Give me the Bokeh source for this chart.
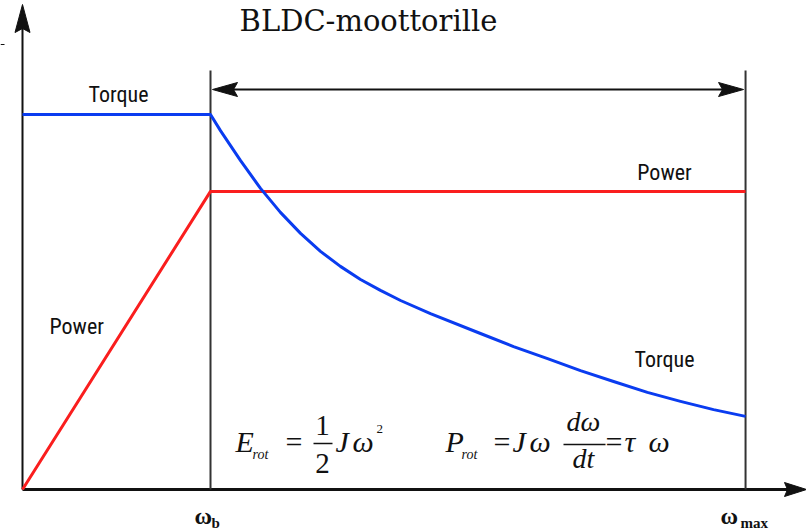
from bokeh.plotting import figure
from bokeh.models import Range1d, Label
from bokeh.embed import file_html
from bokeh.resources import INLINE

# Speeds are normalised to the base speed (omega_b = 1), torque to the rated torque.
omega_b = 1.0
omega_max = 3.846

torque_omega = [0.0, 1.0, 1.053, 1.160, 1.266, 1.372, 1.479, 1.585, 1.691, 1.798,
                1.904, 2.011, 2.170, 2.436, 2.612, 2.793, 2.968, 3.144, 3.324,
                3.500, 3.676, 3.846]
torque_vals = [1.0, 1.0, 0.957, 0.877, 0.803, 0.739, 0.683, 0.635, 0.595, 0.560,
               0.531, 0.504, 0.469, 0.416, 0.381, 0.349, 0.317, 0.288, 0.259,
               0.235, 0.213, 0.195]

power_omega = [0.0, 1.0, 3.846]
power_vals = [0.0, 0.795, 0.795]

W, H = 806, 532
PX_X = 188.0   # pixels per unit of speed
PX_Y = 375.0   # pixels per unit of torque
X0_PX, Y0_PX = 22, 489   # origin position on the canvas


def dx(px):
    return (px - X0_PX) / PX_X


def dy(py):
    return (Y0_PX - py) / PX_Y


p = figure(width=W, height=H, output_backend="svg", toolbar_location=None,
           x_range=Range1d(dx(0), dx(W)), y_range=Range1d(dy(H), dy(0)),
           x_axis_location=None, y_axis_location=None, min_border=0,
           outline_line_color=None, background_fill_color="white",
           border_fill_color="white")
p.xgrid.visible = False
p.ygrid.visible = False

BLUE = "#0a3cf0"
RED = "#fa1e1e"
INK = "#111111"

x_end = dx(W)
y_top = dy(4)
guide_top = dy(70)
span_y = dy(89)


def arrowhead(tip_x, tip_y, ux, uy, length, half, notch, color=INK):
    """Filled, slightly notched arrow head; ux/uy is the pointing direction in screen pixels (y up)."""
    px_, py_ = -uy, ux
    pts = [(0, 0),
           (-ux * length + px_ * half, -uy * length + py_ * half),
           (-ux * (length - notch), -uy * (length - notch)),
           (-ux * length - px_ * half, -uy * length - py_ * half)]
    xs = [tip_x + a / PX_X for a, b in pts]
    ys = [tip_y + b / PX_Y for a, b in pts]
    p.patch(xs, ys, fill_color=color, line_color=color, line_width=1)


# axes
p.line([0, 0], [0, y_top - 20 / PX_Y], line_color=INK, line_width=2)
arrowhead(0, y_top, 0, 1, 28, 7.5, 4)
p.line([0, x_end - 15 / PX_X], [0, 0], line_color=INK, line_width=3)
arrowhead(x_end, 0, 1, 0, 22, 7, 3)

# base speed and maximum speed guides
p.line([omega_b, omega_b], [0, guide_top], line_color="#333333", line_width=2)
p.line([omega_max, omega_max], [0, guide_top], line_color="#333333", line_width=2)

# constant-power range arrow
p.line([omega_b + 20 / PX_X, omega_max - 20 / PX_X], [span_y, span_y],
       line_color=INK, line_width=2)
arrowhead(omega_b + 2 / PX_X, span_y, -1, 0, 25, 7, 4)
arrowhead(omega_max - 2 / PX_X, span_y, 1, 0, 25, 7, 4)

# small mark at the left edge
p.line([dx(0), dx(4)], [dy(44), dy(44)], line_color=INK, line_width=1)

# characteristics
p.line(power_omega, power_vals, line_color=RED, line_width=3, line_join="round")
p.line(torque_omega, torque_vals, line_color=BLUE, line_width=3, line_join="round")

SANS = "'Liberation Sans Narrow', 'Roboto Condensed', Roboto"
SERIF = "Liberation Serif"
BASELINE_SHIFT = 0.36   # lift (in em) applied so that py is the text's baseline


def label(px, py, text, font=SANS, size=22, style="normal", align="left",
          color=INK):
    p.add_layout(Label(x=dx(px), y=dy(py - BASELINE_SHIFT * size), text=text,
                       text_font=font, text_font_size=f"{size}px",
                       text_font_style=style, text_align=align,
                       text_baseline="alphabetic", text_color=color))


# title
label(368, 31, "BLDC-moottorille", font="DejaVu Serif", size=29, align="center")

# curve labels
label(118, 102, "Torque", align="center")
label(49, 334, "Power")
label(664, 180, "Power", align="center")
label(664, 367, "Torque", align="center")

# rotational energy
label(235, 452, "E", font=SERIF, size=30, style="italic")
label(252, 459, "rot", font=SERIF, size=14, style="italic")
label(285, 452, "=", font=SERIF, size=30)
label(322, 435, "1", font=SERIF, size=29, align="center")
p.line([dx(313), dx(332)], [dy(443), dy(443)], line_color=INK, line_width=1.5)
label(322, 473, "2", font=SERIF, size=29, align="center")
label(335, 452, "J", font=SERIF, size=30, style="italic")
label(352, 452, "\u03c9", font=SERIF, size=30, style="italic")
label(376, 433, "2", font=SERIF, size=13)

# rotational power
label(445, 452, "P", font=SERIF, size=30, style="italic")
label(461, 459, "rot", font=SERIF, size=14, style="italic")
label(493, 452, "=", font=SERIF, size=30)
label(512, 452, "J", font=SERIF, size=30, style="italic")
label(529, 452, "\u03c9", font=SERIF, size=30, style="italic")
label(583, 431, "d\u03c9", font=SERIF, size=28, style="italic", align="center")
p.line([dx(563), dx(605)], [dy(444), dy(444)], line_color=INK, line_width=1.5)
label(583, 468, "dt", font=SERIF, size=28, style="italic", align="center")
label(605, 452, "=", font=SERIF, size=30)
label(624, 452, "\u03c4", font=SERIF, size=30, style="italic")
label(648, 452, "\u03c9", font=SERIF, size=30, style="italic")

# speed markers
label(194, 524, "\u03c9", font=SERIF, size=24, style="bold")
label(211, 528, "b", font=SERIF, size=15, style="bold")
label(720, 524, "\u03c9", font=SERIF, size=24, style="bold")
label(740, 528, "max", font=SERIF, size=15, style="bold")

open("out.html", "w").write(file_html(p, INLINE))
